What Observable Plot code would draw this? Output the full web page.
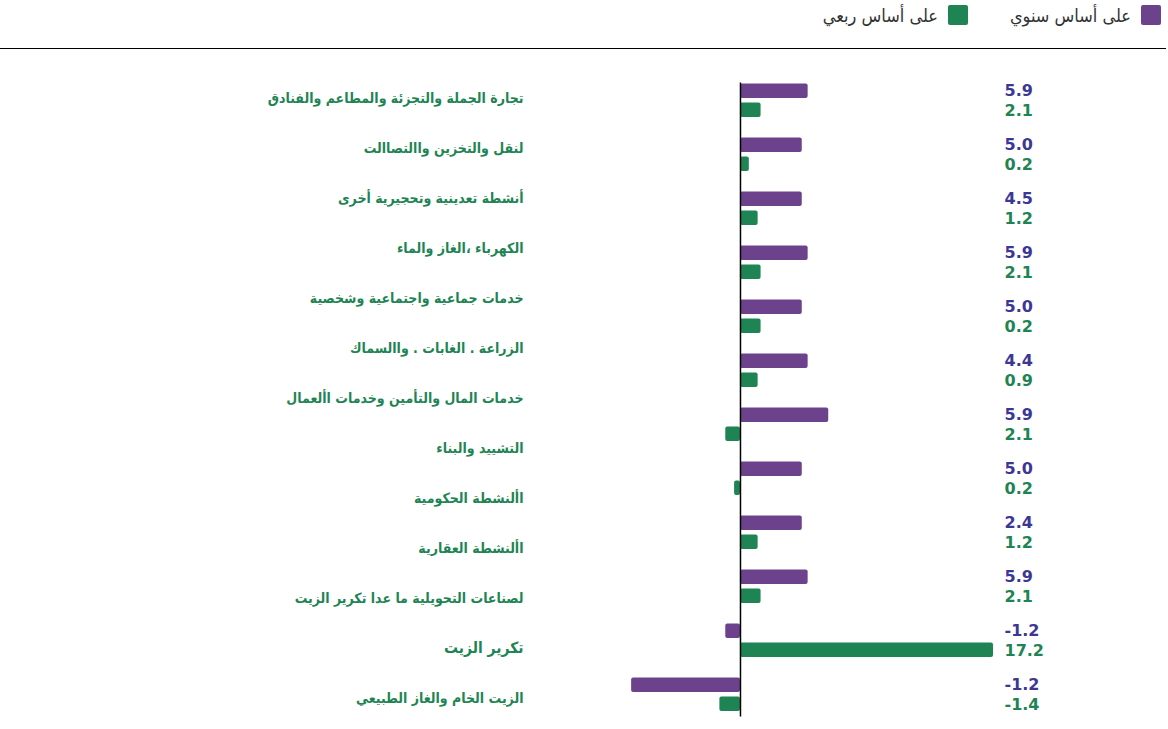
<!DOCTYPE html>
<html><head><meta charset="utf-8">
<script src="https://cdn.jsdelivr.net/npm/d3@7"></script>
<script src="https://cdn.jsdelivr.net/npm/@observablehq/plot@0.6"></script>
<style>
body{margin:0;background:#fff;font-family:"DejaVu Sans",sans-serif;}
#legend{position:relative;width:1166px;height:48px;border-bottom:1px solid #000;}
#legend .item{position:absolute;top:3px;height:24px;display:flex;flex-direction:row;align-items:center;font-size:18px;color:#333;font-family:"DejaVu Sans Condensed","DejaVu Sans",sans-serif;}
#legend .sw{display:inline-block;width:20px;height:20px;border-radius:2px;margin-left:10px;}
#wrap{position:relative;width:1168px;height:680px;}
#wrap svg{position:absolute;left:0;top:0;}
</style></head>
<body>
<div id="legend"></div>
<div id="wrap"></div>
<script>
const categories = [
  "تجارة الجملة والتجزئة والمطاعم والفنادق",
  "لنقل والتخزين واالتصاالت",
  "أنشطة تعدينية وتحجيرية أخرى",
  "الكهرباء ،الغاز والماء",
  "خدمات جماعية واجتماعية وشخصية",
  "الزراعة . الغابات . واالسماك",
  "خدمات المال والتأمين وخدمات األعمال",
  "التشييد والبناء",
  "األنشطة الحكومية",
  "األنشطة العقارية",
  "لصناعات التحويلية ما عدا تكرير الزيت",
  "تكرير الزيت",
  "الزيت الخام والغاز الطبيعي"
];
const highlighted = "تكرير الزيت";
const groups = ["g1","g2","g3","g4","g5","g6","g7","g8","g9","g10","g11","g12"];
const series = ["على أساس سنوي", "على أساس ربعي"];
// bar lengths as drawn in the picture
const annualBars = [4.6, 4.2, 4.2, 4.6, 4.2, 4.6, 6.0, 4.2, 4.2, 4.6, -1.0, -7.4];
const quarterlyBars = [1.4, 0.6, 1.2, 1.4, 1.4, 1.2, -1.0, -0.4, 1.2, 1.4, 17.2, -1.4];
// value labels as printed
const annualLabels = ["5.9","5.0","4.5","5.9","5.0","4.4","5.9","5.0","2.4","5.9","-1.2","-1.2"];
const quarterlyLabels = ["2.1","0.2","1.2","2.1","0.2","0.9","2.1","0.2","1.2","2.1","17.2","-1.4"];
const barColors = ["#6c428d", "#1e8454"];
const labelColors = ["#3d3794", "#1e8454"];
const catColor = "#1e8454";
const catFont = "'DejaVu Sans Condensed', 'DejaVu Sans', sans-serif";

// legend
const legend = document.getElementById("legend");
const legendRight = [5, 198];
series.forEach((s, i) => {
  const it = document.createElement("div");
  it.className = "item";
  it.style.right = legendRight[i] + "px";
  it.dir = "rtl";
  const sw = document.createElement("span");
  sw.className = "sw";
  sw.style.background = barColors[i];
  const tx = document.createElement("span");
  tx.textContent = s;
  it.appendChild(sw);
  it.appendChild(tx);
  legend.appendChild(it);
});

const rows = groups.map((g, i) => ({
  group: g,
  annual: annualBars[i],
  quarterly: quarterlyBars[i],
  aLabel: annualLabels[i],
  qLabel: quarterlyLabels[i]
}));

const main = Plot.plot({
  width: 1168, height: 680,
  marginTop: 23.5, marginBottom: 8.5, marginLeft: 622.3, marginRight: 175,
  style: {fontFamily: "'DejaVu Sans', sans-serif", background: "transparent"},
  x: {domain: [-8, 17.2], axis: null},
  y: {domain: groups, axis: null, padding: 0},
  marks: [
    Plot.barX(rows, {x: "annual", y: "group", fill: barColors[0], insetTop: 10.5, insetBottom: 29, rx: 2}),
    Plot.barX(rows, {x: "quarterly", y: "group", fill: barColors[1], insetTop: 29.5, insetBottom: 10, rx: 2}),
    Plot.ruleX([0], {stroke: "#000", strokeWidth: 1.5, insetTop: 10, insetBottom: 4}),
    Plot.text(rows, {y: "group", text: "aLabel", frameAnchor: "right", textAnchor: "start", dx: 11, dy: -10, fill: labelColors[0], fontSize: 16, fontWeight: "bold"}),
    Plot.text(rows, {y: "group", text: "qLabel", frameAnchor: "right", textAnchor: "start", dx: 11, dy: 10, fill: labelColors[1], fontSize: 16, fontWeight: "bold"})
  ]
});

const labels = Plot.plot({
  width: 540, height: 680,
  marginTop: 46, marginBottom: 28, marginLeft: 0, marginRight: 17,
  style: {fontFamily: catFont, background: "transparent"},
  y: {domain: categories, axis: null, padding: 0},
  marks: [
    Plot.text(categories.filter(c => c !== highlighted), {y: d => d, text: d => d, frameAnchor: "right", textAnchor: "end", fill: catColor, fontSize: 14, fontWeight: "bold"}),
    Plot.text([highlighted], {y: d => d, text: d => d, frameAnchor: "right", textAnchor: "end", fill: catColor, fontSize: 15.5, fontWeight: "bold"})
  ]
});

const wrap = document.getElementById("wrap");
wrap.appendChild(main);
wrap.appendChild(labels);
</script>
</body></html>
